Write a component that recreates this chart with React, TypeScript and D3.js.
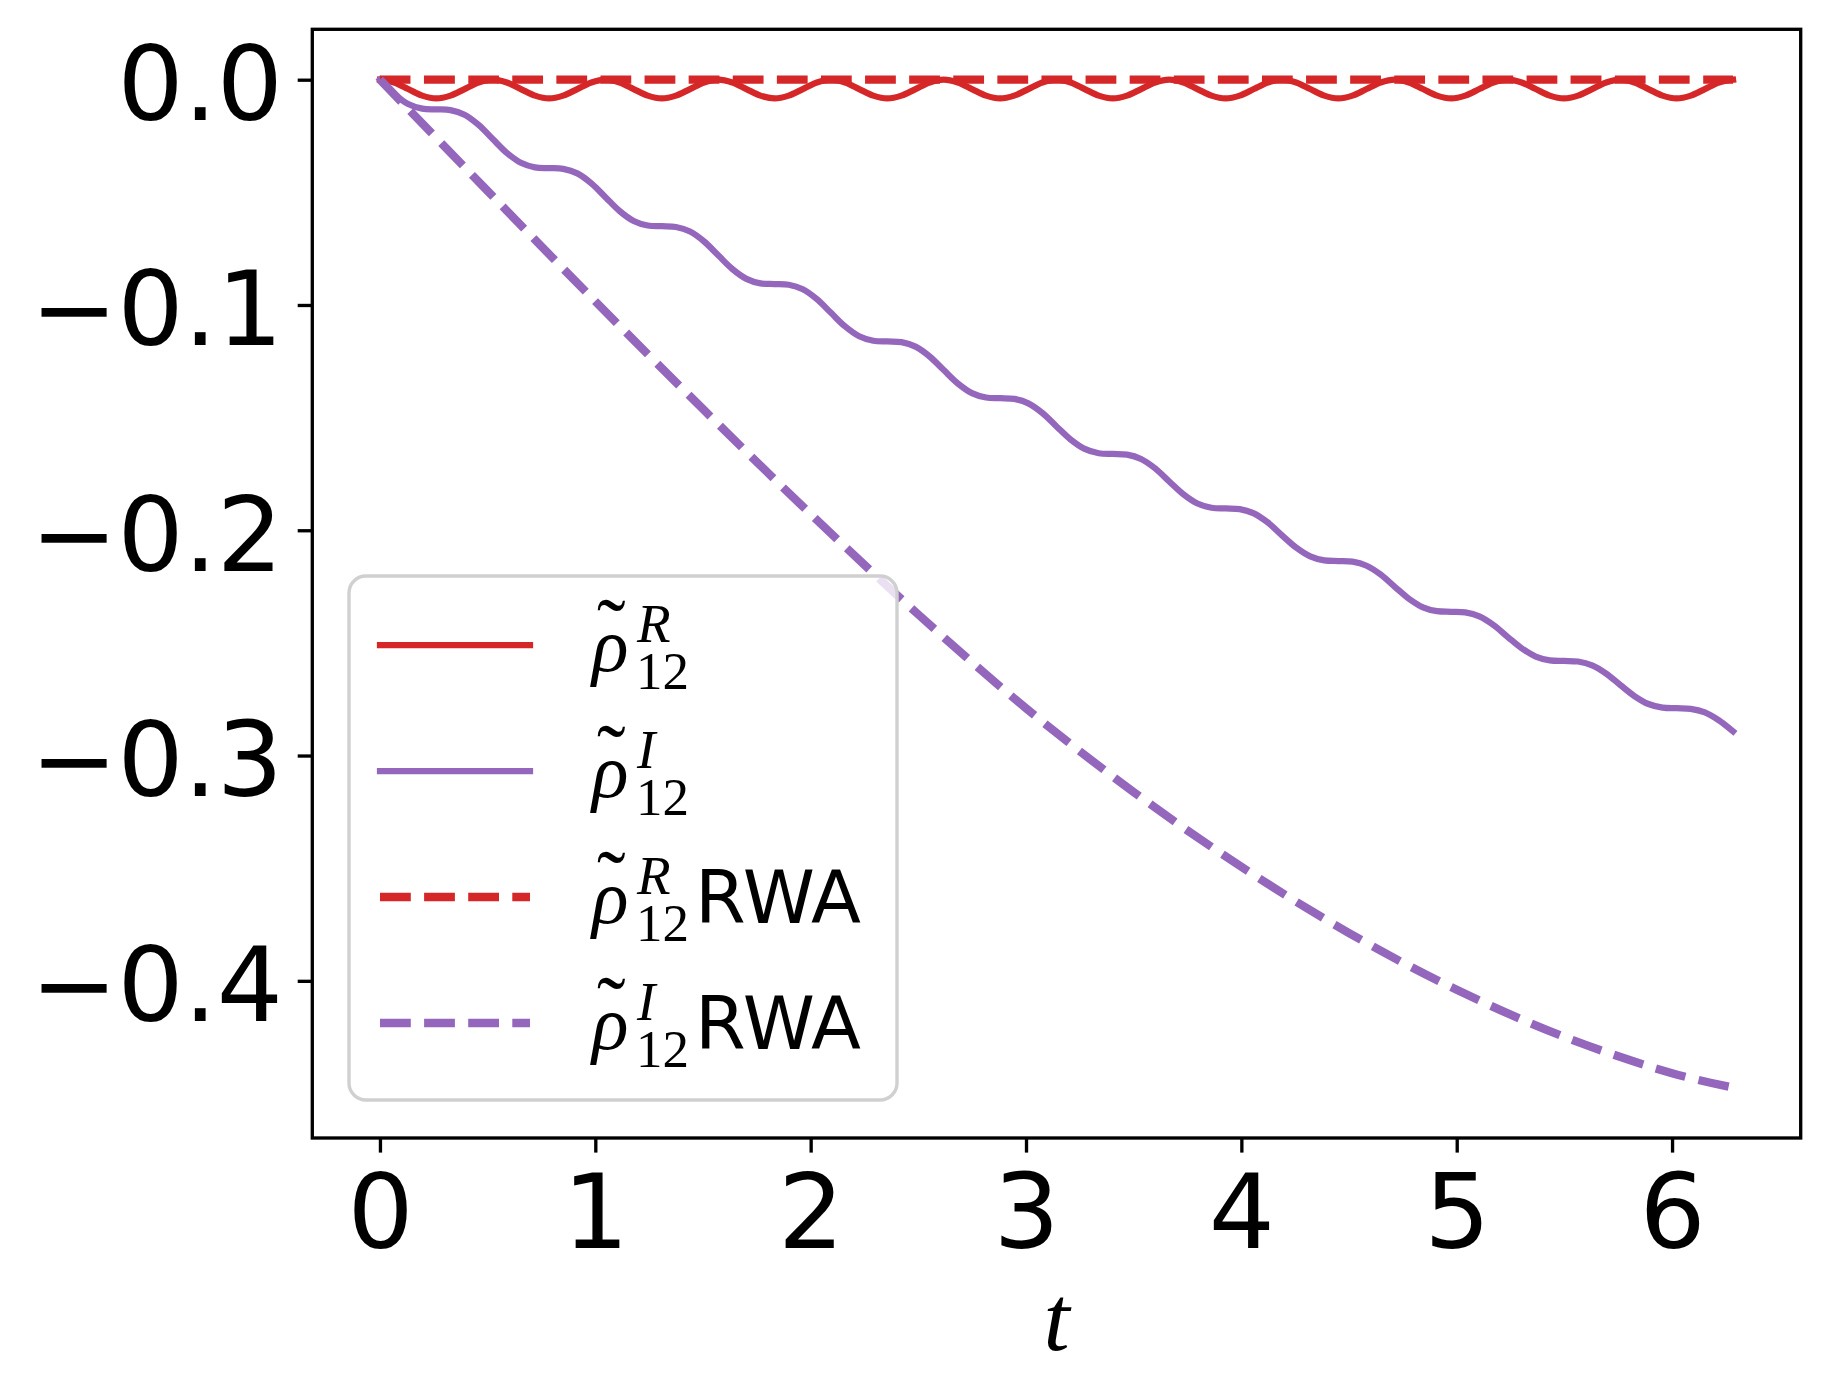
import React, { useEffect, useRef } from 'react';
import * as d3 from 'd3';

// time grid for the exact solutions (8 samples per fast period)
const tGrid = [
  0, 0.0654, 0.1309, 0.1963, 0.2618, 0.3272, 0.3927, 0.4581,
  0.5236, 0.589, 0.6545, 0.7199, 0.7854, 0.8508, 0.9163, 0.9817,
  1.0472, 1.1126, 1.1781, 1.2435, 1.309, 1.3744, 1.4399, 1.5053,
  1.5708, 1.6362, 1.7017, 1.7671, 1.8326, 1.898, 1.9635, 2.0289,
  2.0944, 2.1598, 2.2253, 2.2907, 2.3562, 2.4216, 2.4871, 2.5525,
  2.618, 2.6834, 2.7489, 2.8143, 2.8798, 2.9452, 3.0107, 3.0761,
  3.1416, 3.207, 3.2725, 3.3379, 3.4034, 3.4688, 3.5343, 3.5997,
  3.6652, 3.7306, 3.7961, 3.8615, 3.927, 3.9924, 4.0579, 4.1233,
  4.1888, 4.2542, 4.3197, 4.3851, 4.4506, 4.516, 4.5815, 4.6469,
  4.7124, 4.7778, 4.8433, 4.9087, 4.9742, 5.0396, 5.1051, 5.1705,
  5.236, 5.3014, 5.3669, 5.4323, 5.4978, 5.5632, 5.6287, 5.6941,
  5.7596, 5.825, 5.8905, 5.9559, 6.0214, 6.0868, 6.1523, 6.2177,
  6.2832,
];

// real part, full solution
const rhoR = [
  0, -0.00122, -0.00415, -0.00708, -0.0083, -0.00708, -0.00415, -0.00122,
  0, -0.00122, -0.00415, -0.00708, -0.0083, -0.00708, -0.00415, -0.00122,
  0, -0.00122, -0.00415, -0.00708, -0.0083, -0.00708, -0.00415, -0.00122,
  0, -0.00122, -0.00415, -0.00708, -0.0083, -0.00708, -0.00415, -0.00122,
  0, -0.00122, -0.00415, -0.00708, -0.0083, -0.00708, -0.00415, -0.00122,
  0, -0.00122, -0.00415, -0.00708, -0.0083, -0.00708, -0.00415, -0.00122,
  0, -0.00122, -0.00415, -0.00708, -0.0083, -0.00708, -0.00415, -0.00122,
  0, -0.00122, -0.00415, -0.00708, -0.0083, -0.00708, -0.00415, -0.00122,
  0, -0.00122, -0.00415, -0.00708, -0.0083, -0.00708, -0.00415, -0.00122,
  0, -0.00122, -0.00415, -0.00708, -0.0083, -0.00708, -0.00415, -0.00122,
  0, -0.00122, -0.00415, -0.00708, -0.0083, -0.00708, -0.00415, -0.00122,
  0, -0.00122, -0.00415, -0.00708, -0.0083, -0.00708, -0.00415, -0.00122,
  0,
];

// imaginary part, full solution
const rhoI = [
  0, -0.00626, -0.01078, -0.01285, -0.01318, -0.0135, -0.01557, -0.02009,
  -0.02635, -0.03248, -0.0369, -0.03893, -0.03925, -0.03957, -0.0416, -0.04602,
  -0.05215, -0.05828, -0.0627, -0.06473, -0.06505, -0.06537, -0.0674, -0.07182,
  -0.07795, -0.08402, -0.0884, -0.09041, -0.09073, -0.09104, -0.09305, -0.09743,
  -0.1035, -0.10953, -0.11389, -0.11588, -0.1162, -0.11652, -0.11851, -0.12287,
  -0.1289, -0.13484, -0.13913, -0.14109, -0.1414, -0.14171, -0.14368, -0.14796,
  -0.1539, -0.15971, -0.1639, -0.16582, -0.16613, -0.16643, -0.16835, -0.17254,
  -0.17835, -0.18403, -0.18813, -0.19, -0.1903, -0.1906, -0.19247, -0.19657,
  -0.20225, -0.20768, -0.2116, -0.21339, -0.21368, -0.21396, -0.21575, -0.21967,
  -0.2251, -0.23037, -0.23418, -0.23592, -0.2362, -0.23648, -0.23822, -0.24203,
  -0.2473, -0.25238, -0.25605, -0.25773, -0.258, -0.25827, -0.25995, -0.26362,
  -0.2687, -0.27359, -0.27713, -0.27874, -0.279, -0.27926, -0.28087, -0.28441,
  -0.2893,
];

// rotating wave approximation
const tRwa = [0, 0.5, 1, 1.5, 2, 2.5, 3, 3.5, 4, 4.5, 5, 5.5, 6, 6.2832];
const rhoRRwa = [0, 0, 0, 0, 0, 0, 0, 0, 0, 0, 0, 0, 0, 0];
const rhoIRwa = [
  0, -0.0494, -0.0984, -0.1462, -0.1928, -0.2374, -0.279, -0.3162,
  -0.3494, -0.3788, -0.404, -0.4249, -0.441, -0.4474,
];

const xTicks = [0, 1, 2, 3, 4, 5, 6];
const xTickLabels = ['0', '1', '2', '3', '4', '5', '6'];
const yTicks = [0, -0.1, -0.2, -0.3, -0.4];
const yTickLabels = ['0.0', '\u22120.1', '\u22120.2', '\u22120.3', '\u22120.4'];

const legendSup = ['R', 'I', 'R', 'I'];
const legendSuffix = ['', '', 'RWA', 'RWA'];

const RED = '#d62728';
const PURPLE = '#9467bd';

const App: React.FC = () => {
  const ref = useRef<SVGSVGElement>(null);

  useEffect(() => {
    drawChart();
  }, []);

  const drawChart = () => {
    const svg = d3.select(ref.current);
    svg.selectAll('*').remove();

    const W = 1830;
    const H = 1396;
    const left = 312.3, right = 1800.7, top = 29.3, bottom = 1138;

    svg.append('rect').attr('width', W).attr('height', H).attr('fill', '#fff');

    const x = d3.scaleLinear().domain([-0.31416, 6.59734]).range([left, right]);
    const y = d3.scaleLinear().domain([-0.46977, 0.02237]).range([bottom, top]);

    const defs = svg.append('defs');
    defs.append('clipPath').attr('id', 'plotclip')
      .append('rect')
      .attr('x', left).attr('y', top)
      .attr('width', right - left).attr('height', bottom - top);

    const line = d3.line<[number, number]>()
      .x(d => x(d[0]))
      .y(d => y(d[1]))
      .curve(d3.curveCatmullRom);

    const series = [
      { t: tGrid, v: rhoR, color: RED, dashed: false },
      { t: tGrid, v: rhoI, color: PURPLE, dashed: false },
      { t: tRwa, v: rhoRRwa, color: RED, dashed: true },
      { t: tRwa, v: rhoIRwa, color: PURPLE, dashed: true },
    ];

    const solidW = 6.25;
    const dashW = 8.33;
    const dashPattern = '30.8,13.3';

    const plot = svg.append('g').attr('clip-path', 'url(#plotclip)');
    series.forEach(s => {
      const pts = s.t.map((t, i) => [t, s.v[i]] as [number, number]);
      plot.append('path')
        .attr('d', line(pts))
        .attr('fill', 'none')
        .attr('stroke', s.color)
        .attr('stroke-width', s.dashed ? dashW : solidW)
        .attr('stroke-dasharray', s.dashed ? dashPattern : null)
        .attr('stroke-linecap', s.dashed ? 'butt' : 'square')
        .attr('stroke-linejoin', 'round');
    });

    // frame
    svg.append('rect')
      .attr('x', left).attr('y', top)
      .attr('width', right - left).attr('height', bottom - top)
      .attr('fill', 'none')
      .attr('stroke', '#000')
      .attr('stroke-width', 3.33);

    const tickLen = 14.6;
    const tickFont = "'DejaVu Sans', sans-serif";
    const mathFont = "'Liberation Serif', serif";

    // x axis
    const gx = svg.append('g').attr('transform', `translate(0,${bottom})`)
      .call(d3.axisBottom(x).tickValues(xTicks).tickSize(tickLen)
        .tickFormat((d, i) => xTickLabels[i]));
    gx.select('.domain').remove();
    gx.selectAll('line').attr('stroke', '#000').attr('stroke-width', 3.33);
    gx.selectAll('text')
      .attr('y', 110).attr('dy', null)
      .attr('fill', '#000')
      .style('font-family', tickFont).style('font-size', '104px');

    // y axis
    const gy = svg.append('g').attr('transform', `translate(${left},0)`)
      .call(d3.axisLeft(y).tickValues(yTicks).tickSize(tickLen)
        .tickFormat((d, i) => yTickLabels[i]));
    gy.select('.domain').remove();
    gy.selectAll('line').attr('stroke', '#000').attr('stroke-width', 3.33);
    gy.selectAll('text')
      .attr('x', -29.3).attr('dy', null).attr('y', 40)
      .attr('fill', '#000')
      .style('font-family', tickFont).style('font-size', '104px');

    // x label
    svg.append('text')
      .attr('x', (left + right) / 2).attr('y', 1350)
      .attr('text-anchor', 'middle')
      .style('font-family', mathFont)
      .style('font-style', 'italic')
      .style('font-size', '94px')
      .text('t');

    // legend
    const lg = svg.append('g');
    lg.append('rect')
      .attr('x', 349).attr('y', 576)
      .attr('width', 897 - 349).attr('height', 1100 - 576)
      .attr('rx', 17).attr('ry', 17)
      .attr('fill', 'rgba(255,255,255,0.8)')
      .attr('stroke', '#d0d0d0')
      .attr('stroke-width', 3.4);

    series.forEach((s, i) => {
      const ry = 645 + i * 126;
      lg.append('line')
        .attr('x1', 380).attr('x2', 530)
        .attr('y1', ry).attr('y2', ry)
        .attr('stroke', s.color)
        .attr('stroke-width', s.dashed ? dashW : solidW)
        .attr('stroke-dasharray', s.dashed ? dashPattern : null)
        .attr('stroke-linecap', s.dashed ? 'butt' : 'square');

      // one label: tilde, rho, superscript, subscript, suffix
      const label = lg.append('text').style('font-family', mathFont);
      label.append('tspan')
        .attr('x', 597).attr('y', ry + 14)
        .style('font-size', '86px')
        .text('\u02DC');
      label.append('tspan')
        .attr('x', 592).attr('y', ry + 26)
        .style('font-style', 'italic')
        .style('font-size', '76px')
        .text('\u03C1');
      label.append('tspan')
        .attr('x', 637).attr('y', ry - 3)
        .style('font-style', 'italic')
        .style('font-size', '55px')
        .text(legendSup[i]);
      label.append('tspan')
        .attr('x', 636).attr('y', ry + 44)
        .style('font-size', '53px')
        .text('12');
      if (legendSuffix[i]) {
        label.append('tspan')
          .attr('x', 695).attr('y', ry + 26)
          .style('font-family', tickFont)
          .style('font-size', '73px')
          .text(legendSuffix[i]);
      }
    });
  };

  return (
    <svg
      ref={ref}
      width={1830}
      height={1396}
      style={{ position: 'absolute', left: 0, top: 0, display: 'block' }}
    />
  );
};

export default App;
